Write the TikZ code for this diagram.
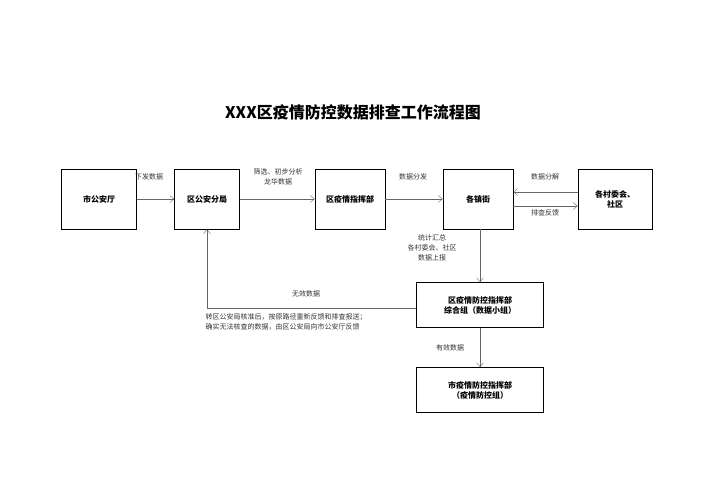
\documentclass[tikz,border=0pt]{standalone}
\usepackage{fontspec}
\setmainfont{Noto Sans CJK SC}
\usetikzlibrary{arrows.meta}
\begin{document}
\begin{tikzpicture}[x=1pt,y=-1pt,
  box/.style={draw,thick,minimum width=#1,minimum height=60pt,align=center,font=\fontsize{8}{10}\selectfont\bfseries},
  box/.default=70pt,
  flow/.style={draw=black!60,-{Straight Barb[length=4pt,width=7pt]}},
  lab/.style={font=\fontsize{7}{10}\selectfont,text=black!80,align=center}]
\useasboundingbox (0,0) rectangle (707,500);
%title
\node[font=\fontsize{16}{18}\selectfont\bfseries] (title) at (353,112) {XXX区疫情防控数据排查工作流程图};
%boxes
\node[box=75pt] (city) at (99,199) {市公安厅};
\node[box=65pt] (dist) at (207,199) {区公安分局};
\node[box] (hq) at (350,199) {区疫情指挥部};
\node[box] (town) at (478,199) {各镇街};
\node[box=74pt] (vill) at (615,199) {各村委会、\\社区};
\node[box=127pt,minimum height=45pt] (grp) at (480,305) {区疫情防控指挥部\\综合组（数据小组）};
\node[box=127pt,minimum height=45pt] (cgrp) at (480,390) {市疫情防控指挥部\\（疫情防控组）};
%connectors
\draw[flow] (city) -- (dist);
\draw[flow] (dist) -- (hq);
\draw[flow] (hq) -- (town);
\draw[flow] ([yshift=-7pt]town.east) -- ([yshift=-7pt]vill.west);
\draw[flow] ([yshift=7pt]vill.west) -- ([yshift=7pt]town.east);
\draw[flow] (town.south -| grp) -- (grp);
\draw[flow] ([yshift=-3pt]grp.west) -| (dist);
\draw[flow] (grp) -- (cgrp);
%labels
\node[lab] (l1) at (149,177) {下发数据};
\node[lab,align=center] (l2) at (278,177) {筛选、初步分析\\龙华数据};
\node[lab] (l3) at (413,177) {数据分发};
\node[lab] (l4) at (545,177) {数据分解};
\node[lab] (l5) at (545,213) {排查反馈};
\node[lab] (l6) at (432,248) {统计汇总\\各村委会、社区\\数据上报};
\node[lab] (l7) at (306,294) {无效数据};
\node[lab,align=left,anchor=west] (l8) at (202,322) {转区公安局核准后，按原路径重新反馈和排查报送；\\确实无法核查的数据，由区公安局向市公安厅反馈};
\node[lab] (l9) at (450,348) {有效数据};
\end{tikzpicture}
\end{document}
